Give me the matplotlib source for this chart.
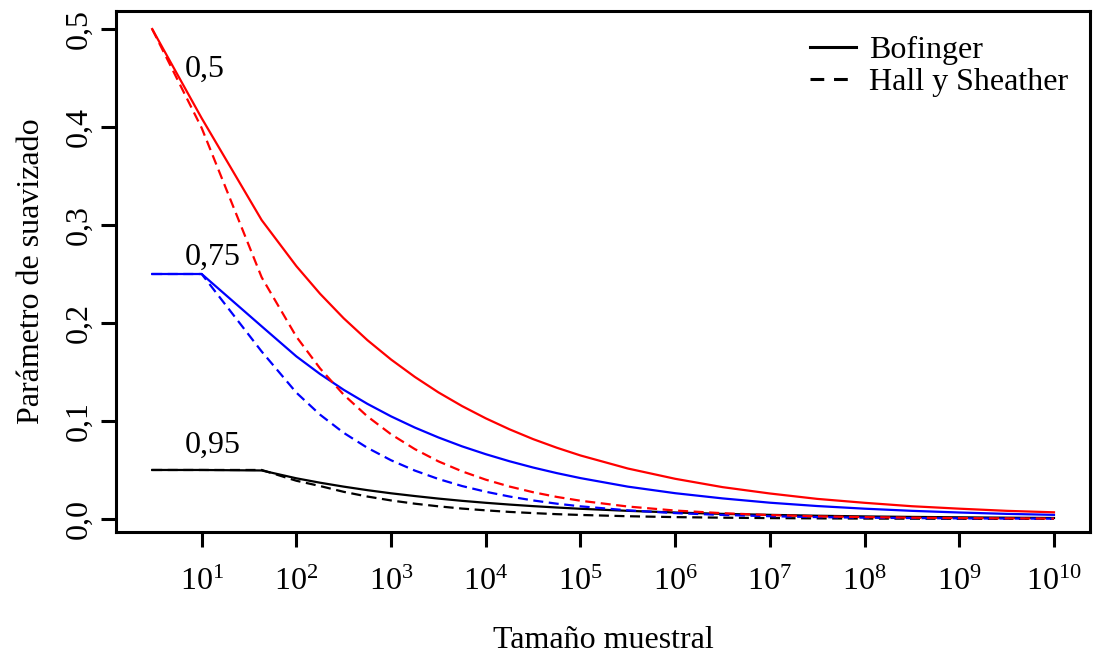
import matplotlib
matplotlib.use("Agg")
import matplotlib.pyplot as plt
from matplotlib.lines import Line2D
from matplotlib.ticker import NullLocator

plt.rcParams['font.family'] = ['Liberation Serif', 'DejaVu Serif']
plt.rcParams['mathtext.fontset'] = 'custom'
plt.rcParams['mathtext.rm'] = 'Liberation Serif'

# tamaño muestral (eje x, logarítmico)
n_vals = [3, 10, 43, 100, 178, 316, 562, 1e3, 1.78e3, 3.16e3, 5.62e3, 1e4, 1.78e4,
          3.16e4, 5.62e4, 1e5, 3.16e5, 1e6, 3.16e6, 1e7, 3.16e7, 1e8, 3.16e8, 1e9,
          3.16e9, 1e10]

# Bofinger (líneas continuas)
bof_050 = [0.5, 0.409, 0.305, 0.258, 0.2298, 0.2048, 0.1825, 0.1627, 0.145, 0.1292,
           0.1152, 0.1027, 0.0915, 0.0815, 0.0727, 0.0648, 0.0515, 0.041, 0.0325, 0.026,
           0.0205, 0.0165, 0.013, 0.0105, 0.0083, 0.0068]
bof_075 = [0.25, 0.25, 0.1966, 0.1659, 0.1479, 0.1318, 0.1175, 0.1047, 0.0933, 0.0832,
           0.0741, 0.0661, 0.0589, 0.0525, 0.0468, 0.0417, 0.033, 0.0263, 0.021, 0.0166,
           0.0132, 0.0105, 0.0083, 0.0066, 0.0052, 0.0042]
bof_095 = [0.05, 0.05, 0.0495, 0.0415, 0.037, 0.033, 0.0294, 0.0262, 0.0234, 0.0208,
           0.0185, 0.0165, 0.0147, 0.0131, 0.0117, 0.0104, 0.0083, 0.0066, 0.0052, 0.0042,
           0.0033, 0.0026, 0.0021, 0.0017, 0.0013, 0.001]

# Hall y Sheather (líneas discontinuas)
hs_050 = [0.5, 0.399, 0.2466, 0.186, 0.1536, 0.1268, 0.1047, 0.0864, 0.0713, 0.0588,
          0.0486, 0.0401, 0.0331, 0.0273, 0.0225, 0.0186, 0.0127, 0.0086, 0.0059, 0.004,
          0.0027, 0.0019, 0.0013, 0.0009, 0.0006, 0.0004]
hs_075 = [0.25, 0.25, 0.1709, 0.1289, 0.1064, 0.0879, 0.0726, 0.0599, 0.0494, 0.0408,
          0.0336, 0.0278, 0.0229, 0.0189, 0.0156, 0.0129, 0.0088, 0.006, 0.0041, 0.0028,
          0.0019, 0.0013, 0.0009, 0.0006, 0.0004, 0.0003]
hs_095 = [0.05, 0.05, 0.05, 0.039, 0.0336, 0.0277, 0.0229, 0.0189, 0.0156, 0.0129,
          0.0106, 0.0088, 0.0072, 0.006, 0.0049, 0.0041, 0.0028, 0.0019, 0.0013, 0.0009,
          0.0006, 0.0004, 0.0003, 0.0002, 0.00013, 0.0001]

x_ticks = [1e1, 1e2, 1e3, 1e4, 1e5, 1e6, 1e7, 1e8, 1e9, 1e10]
x_labels = [r'$\mathregular{10^{%d}}$' % k for k in range(1, 11)]
y_ticks = [0.0, 0.1, 0.2, 0.3, 0.4, 0.5]
y_labels = ['0,0', '0,1', '0,2', '0,3', '0,4', '0,5']

quantiles = ['0,5', '0,75', '0,95']
quantile_pos = [(6.67, 0.451), (6.67, 0.259), (6.67, 0.067)]


def main():
    fig = plt.figure(figsize=(11, 6.56), dpi=100)
    ax = fig.add_axes([0.10545, 0.18902, 0.88545, 0.79421])

    fs = 23
    dash = (4.5, 2.5)
    ax.plot(n_vals, bof_095, color='black', lw=1.6)
    ax.plot(n_vals, hs_095, color='black', lw=1.6, dashes=dash)
    ax.plot(n_vals, bof_075, color='#0000ff', lw=1.6)
    ax.plot(n_vals, hs_075, color='#0000ff', lw=1.6, dashes=dash)
    ax.plot(n_vals, bof_050, color='#ff0000', lw=1.6)
    ax.plot(n_vals, hs_050, color='#ff0000', lw=1.6, dashes=dash)

    for txt, (xp, yp) in zip(quantiles, quantile_pos):
        ax.text(xp, yp, txt, fontsize=fs, ha='left', va='baseline')

    ax.set_xscale('log')
    ax.set_xlim(1.245, 2.4e10)
    ax.set_ylim(-0.0133, 0.5184)
    ax.set_xticks(x_ticks)
    ax.set_xticklabels(x_labels)
    ax.xaxis.set_minor_locator(NullLocator())
    ax.set_yticks(y_ticks)
    ax.set_yticklabels(y_labels, rotation=90, va='center')

    ax.tick_params(direction='out', length=11, width=2.2, labelsize=fs)
    ax.tick_params(axis='x', pad=15)
    ax.tick_params(axis='y', pad=5)
    for sp in ax.spines.values():
        sp.set_linewidth(2.2)

    ax.set_xlabel('Tamaño muestral', fontsize=fs)
    ax.set_ylabel('Parámetro de suavizado', fontsize=fs)
    ax.xaxis.set_label_coords(0.5, -0.18)
    ax.yaxis.set_label_coords(-0.072, 0.5)

    handles = [Line2D([], [], color='black', lw=2.2),
               Line2D([], [], color='black', lw=2.2, dashes=(4.5, 3.2))]
    ax.legend(handles, ['Bofinger', 'Hall y Sheather'], loc='upper left',
              bbox_to_anchor=(0.7125, 0.953), frameon=False, fontsize=fs,
              handlelength=1.43, handletextpad=0.41, labelspacing=0.1,
              borderpad=0, borderaxespad=0)

    fig.savefig('out.png', dpi=100)


if __name__ == "__main__":
    main()
